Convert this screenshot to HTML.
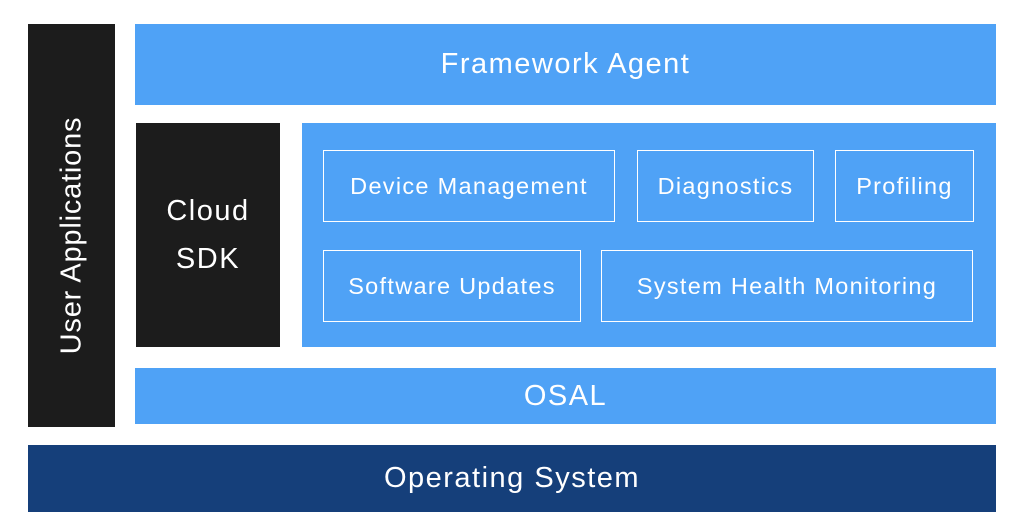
<!DOCTYPE html>
<html><head><style>
body{margin:0;width:1024px;height:532px;background:#fff;position:relative;overflow:hidden;font-family:"Liberation Sans",sans-serif;}
div{position:absolute;box-sizing:border-box;color:#fff;display:flex;align-items:center;justify-content:center;letter-spacing:1.5px;}
.b{background:#4fa2f6;}
.k{background:#1c1c1c;}
.i{border:1.5px solid #fff;font-size:23.5px;letter-spacing:1.3px;}
</style></head><body>
<div class="k" style="left:28px;top:24px;width:87px;height:403px;"><span style="transform:translateY(10px) rotate(-90deg);white-space:nowrap;font-size:29px;letter-spacing:0.8px;">User Applications</span></div>
<div class="b" style="left:135px;top:24px;width:861px;height:81px;font-size:29px;">Framework Agent</div>
<div class="k" style="left:136px;top:123px;width:144px;height:224px;font-size:29px;text-align:center;line-height:48px;">Cloud<br>SDK</div>
<div class="b" style="left:302px;top:123px;width:694px;height:224px;"></div>
<div class="i" style="left:323px;top:150px;width:292px;height:72px;">Device Management</div>
<div class="i" style="left:637px;top:150px;width:177px;height:72px;">Diagnostics</div>
<div class="i" style="left:835px;top:150px;width:139px;height:72px;">Profiling</div>
<div class="i" style="left:323px;top:250px;width:258px;height:72px;">Software Updates</div>
<div class="i" style="left:601px;top:250px;width:372px;height:72px;">System Health Monitoring</div>
<div class="b" style="left:135px;top:368px;width:861px;height:56px;font-size:29px;">OSAL</div>
<div style="left:28px;top:445px;width:968px;height:67px;background:#153f7a;font-size:29px;">Operating System</div>
</body></html>
